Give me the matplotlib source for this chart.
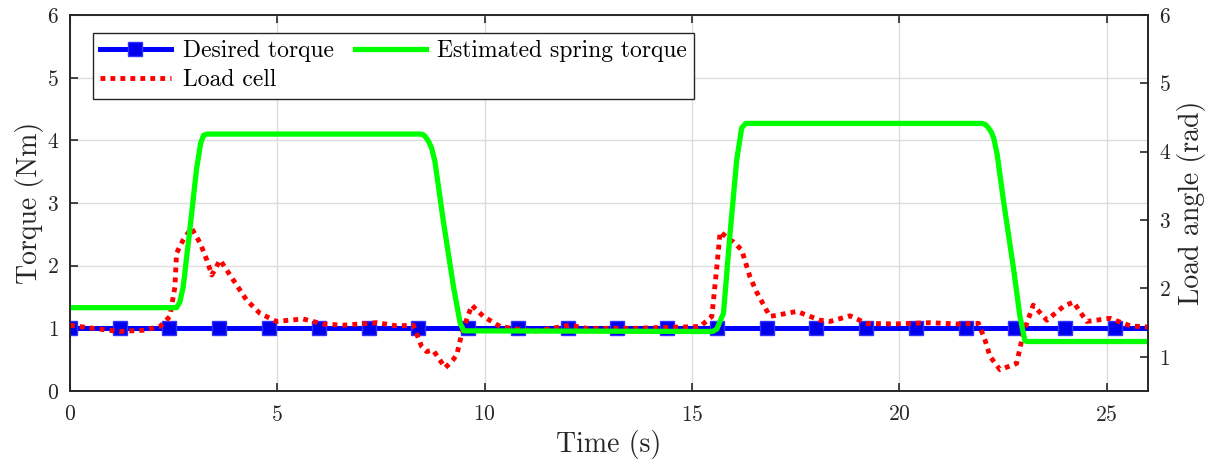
import numpy as np
import matplotlib.pyplot as plt

plt.rcParams['font.family'] = 'cmr10'
plt.rcParams['mathtext.fontset'] = 'cm'
plt.rcParams['axes.unicode_minus'] = False
plt.rcParams['axes.formatter.use_mathtext'] = True

# desired torque reference (constant 1 Nm), markers every 1.2 s
desired_time = [0.0, 1.2, 2.4, 3.6, 4.8, 6.0, 7.2, 8.4, 9.6, 10.8, 12.0, 13.2,
                14.4, 15.6, 16.8, 18.0, 19.2, 20.4, 21.6, 22.8, 24.0, 25.2, 26.0]
desired_torque = [1.0] * len(desired_time)

# estimated spring torque
spring_time = [0.0, 2.57, 2.65, 2.73, 2.89, 3.05, 3.15, 3.22, 3.3,
               8.45, 8.52, 8.58, 8.65, 8.72, 8.8, 9.0, 9.25, 9.41, 9.5,
               15.5, 15.6, 15.76, 15.92, 16.08, 16.2, 16.3,
               22.0, 22.08, 22.15, 22.22, 22.28, 22.36, 22.51, 22.75, 22.91,
               23.03, 23.1, 26.0]
spring_torque = [1.33, 1.33, 1.42, 1.66, 2.57, 3.53, 3.95, 4.08, 4.1,
                 4.1, 4.09, 4.05, 3.98, 3.88, 3.67, 2.73, 1.66, 1.08, 0.96,
                 0.95, 0.99, 1.24, 2.52, 3.69, 4.2, 4.27,
                 4.27, 4.25, 4.2, 4.13, 4.03, 3.78, 3.05, 1.98, 1.19,
                 0.8, 0.79, 0.79]

# load cell measurement
cell_time = [0.0, 0.56, 1.2, 1.77, 2.17, 2.41, 2.53, 2.57, 2.73, 2.93, 3.14,
             3.3, 3.42, 3.62, 3.94, 4.26, 4.58, 4.98, 5.62, 6.1, 6.59, 7.4,
             7.88, 8.28, 8.48, 8.6, 8.76, 9.05, 9.24, 9.33, 9.45, 9.69, 9.97,
             10.37, 11.17, 12.06, 12.46, 13.58, 15.2, 15.48, 15.6, 15.68,
             15.92, 16.0, 16.2, 16.4, 16.56, 16.88, 17.29, 17.53, 18.09,
             18.33, 18.81, 19.21, 19.86, 20.74, 21.39, 21.91, 22.07, 22.19,
             22.43, 22.83, 22.99, 23.23, 23.56, 23.96, 24.2, 24.52, 25.08,
             25.57, 26.0]
cell_torque = [1.05, 1.0, 0.95, 0.97, 1.03, 1.19, 1.66, 2.2, 2.41, 2.6, 2.36,
               2.09, 1.85, 2.09, 1.77, 1.45, 1.24, 1.11, 1.15, 1.07, 1.05, 1.09,
               1.04, 1.05, 0.71, 0.63, 0.65, 0.37, 0.5, 0.58, 0.92, 1.37, 1.19,
               1.03, 0.95, 1.05, 1.0, 1.0, 1.03, 1.19, 1.98, 2.54,
               2.41, 2.38, 2.25, 1.82, 1.58, 1.19, 1.24, 1.27, 1.13,
               1.11, 1.2, 1.08, 1.07, 1.09, 1.07, 1.08, 0.81, 0.55,
               0.34, 0.44, 0.92, 1.37, 1.13, 1.35, 1.42, 1.11, 1.16,
               1.04, 1.02]

ink = '#262626'

fig = plt.figure(figsize=(12.15, 4.67), dpi=100)
ax = fig.add_axes([0.0576, 0.1627, 0.8873, 0.8052])

l1, = ax.plot(desired_time, desired_torque, color='#0000ff', lw=3.6,
              marker='s', markersize=10, markerfacecolor='#0000ee',
              markeredgecolor='#3333ff', markevery=slice(0, -1),
              zorder=2, label='Desired torque')
l3, = ax.plot(cell_time, cell_torque, color='#ff0000', lw=3.5,
              linestyle=(0, (1.0, 1.05)), zorder=3, label='Load cell')
l2, = ax.plot(spring_time, spring_torque, color='#00ff00', lw=3.8,
              zorder=4, label='Estimated spring torque')

ax.set_xlim(0, 26)
ax.set_ylim(0, 6)
ax.set_xticks([0, 5, 10, 15, 20, 25])
ax.set_yticks([0, 1, 2, 3, 4, 5, 6])
ax.grid(True, color='#dddddd', lw=1.0)
ax.set_axisbelow(True)
ax.tick_params(direction='in', length=6, width=1.2, colors=ink,
               labelsize=15.5, top=True, pad=8)
ax.tick_params(axis='x', pad=10)
for s in ax.spines.values():
    s.set_color(ink)
    s.set_linewidth(1.2)
ax.set_xlabel('Time (s)', fontsize=20, color=ink, labelpad=4)
ax.set_ylabel('Torque (Nm)', fontsize=20, color=ink, labelpad=2)

ax2 = ax.twinx()
ax2.set_ylim(0.5, 6)
ax2.set_yticks([1, 2, 3, 4, 5, 6])
ax2.tick_params(direction='in', length=6, width=1.2, colors=ink,
                labelsize=15.5, pad=8)
for s in ax2.spines.values():
    s.set_color(ink)
    s.set_linewidth(1.2)
ax2.set_ylabel('Load angle (rad)', fontsize=20, color=ink, labelpad=4)

leg = ax.legend(handles=[l1, l3, l2], ncol=2, loc='upper left',
                bbox_to_anchor=(0.0213, 0.952), borderaxespad=0,
                fontsize=17, handlelength=3.0, columnspacing=0.9,
                handletextpad=0.5, labelspacing=0.3, borderpad=0.3,
                fancybox=False, framealpha=1)
leg.get_frame().set_edgecolor(ink)
leg.get_frame().set_linewidth(1.0)
leg.set_zorder(10)

fig.savefig('out.png', dpi=100)
